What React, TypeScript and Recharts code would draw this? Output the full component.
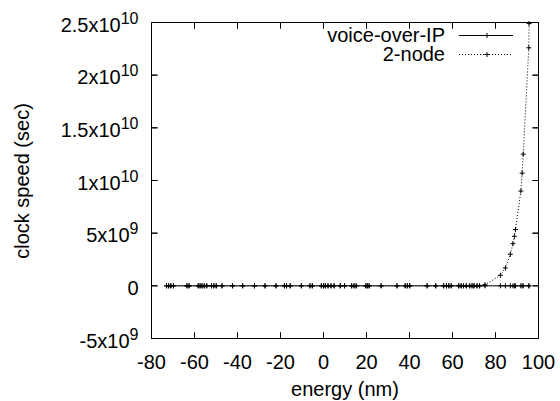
import React from 'react';
import { LineChart, Line, XAxis, YAxis } from 'recharts';

const energy = [
  -73, -72, -71, -69.8, -63.5, -62.5, -58.3, -57.4, -56.5, -55.5, -54.3, -52.1, -51, -49.9,
  -47.2, -42.3, -37.6, -32.1, -27.2, -22.1, -18.2, -17.2, -15.5, -10.3, -6.3, -5.2, -1, 0,
  0.8, 2.1, 3.5, 4.9, 7.8, 9.8, 13.1, 14.2, 15.2, 19.7, 20.4, 21.2, 26.8, 34.2, 38, 39, 40.1,
  48.2, 52.2, 55.9, 57.2, 58.3, 59.4, 62.9, 64, 65.1, 66.4, 68, 69.1, 70, 71.4, 72.6, 75.1,
  82.3, 84.6, 86.9, 88.1, 88.8, 89.3, 91.8, 92.4, 92.9, 95.5, 95.6,
];

const voiceOverIP = [
  0, 0, 0, 0, 0, 0, 0, 0, 0, 0, 0, 0, 0, 0,
  0, 0, 0, 0, 0, 0, 0, 0, 0, 0, 0, 0, 0, 0,
  0, 0, 0, 0, 0, 0, 0, 0, 0, 0, 0, 0, 0, 0, 0, 0, 0,
  0, 0, 0, 0, 0, 0, 0, 0, 0, 0, 0, 0, 0, 0, 0, 0,
  0, 0, 0, 0, 0, 0, 0, 0, 0, 0, 0,
];

const twoNode = [
  0, 0, 0, 0, 0, 0, 0, 0, 0, 0, 0, 0, 0, 0,
  0, 0, 0, 0, 0, 0, 0, 0, 0, 0, 0, 0, 0, 0,
  0, 0, 0, 0, 0, 0, 0, 0, 0, 0, 0, 0, 0, 0, 0, 0, 0,
  0, 0, 0, 0, 0, 0, 0, 0, 0, 0, 0, 0, 0, 0, 0, 1e8,
  1.0e9, 1.7e9, 3.0e9, 4.0e9, 4.7e9, 5.35e9, 9.0e9, 1.07e10, 1.25e10, 2.26e10, 2.49e10,
];

const xDomain = [-80, 100];
const yDomain = [-5e9, 2.5e10];
const xTicks = [-80, -60, -40, -20, 0, 20, 40, 60, 80, 100];
const yTicks = [-5e9, 0, 5e9, 1e10, 1.5e10, 2e10, 2.5e10];
const yTickMantissa = ['-5x10', '0', '5x10', '1x10', '1.5x10', '2x10', '2.5x10'];
const yTickExponent = ['9', '', '9', '10', '10', '10', '10'];

const seriesNames = ['voice-over-IP', '2-node'];
const xLabel = 'energy (nm)';
const yLabel = 'clock speed (sec)';

const data = energy.map((x, i) => ({ x, voice: voiceOverIP[i], node2: twoNode[i] }));

const FONT = '"Liberation Sans", Arial, Helvetica, sans-serif';
const FS = 20;
const TICK = 6;
const CHART_W = 560;
const CHART_H = 401;
const PLOT = { left: 151.5, top: 22.5, right: 538.5, bottom: 338.5 };
const MARGIN = { top: PLOT.top, right: CHART_W - PLOT.right, bottom: 0, left: 0 };
const X_AXIS_H = CHART_H - PLOT.bottom;
const Y_AXIS_W = PLOT.left;
const GAP = 8; // default tickSize (6) + tickMargin (2)

// mirrored frame ticks on the top and right sides (axis furniture only)
const xTickPos = (v: number) =>
  PLOT.left + ((v - xDomain[0]) / (xDomain[1] - xDomain[0])) * (PLOT.right - PLOT.left);
const yTickPos = (v: number) =>
  PLOT.bottom - ((v - yDomain[0]) / (yDomain[1] - yDomain[0])) * (PLOT.bottom - PLOT.top);

const Plus = (props: any) => {
  const { cx, cy } = props;
  if (cx == null || cy == null || isNaN(cx) || isNaN(cy)) return null;
  return (
    <path
      d={`M${cx - 2.5},${cy}h5M${cx},${cy - 2.5}v5`}
      stroke="#000"
      strokeWidth={1}
      fill="none"
    />
  );
};

const BottomTick = (props: any) => {
  const { x, y, payload } = props;
  const axisY = y - GAP;
  return (
    <g>
      <path
        d={`M${x},${axisY}v${-TICK}M${x},${PLOT.top}v${TICK}`}
        stroke="#000"
        strokeWidth={1}
        fill="none"
      />
      <text x={x} y={axisY + 30} textAnchor="middle" fontSize={FS} fontFamily={FONT} fill="#000">
        {payload.value}
      </text>
    </g>
  );
};

const LeftTick = (props: any) => {
  const { x, y, payload } = props;
  const axisX = x + GAP;
  const i = yTicks.indexOf(payload.value);
  return (
    <g>
      <path
        d={`M${axisX},${y}h${TICK}M${PLOT.right},${y}h${-TICK}`}
        stroke="#000"
        strokeWidth={1}
        fill="none"
      />
      <text x={axisX - 13} y={y + 9} textAnchor="end" fontSize={FS} fontFamily={FONT} fill="#000">
        {yTickMantissa[i]}
        {yTickExponent[i] ? (
          <tspan dy={-8} fontSize={16}>
            {yTickExponent[i]}
          </tspan>
        ) : null}
      </text>
    </g>
  );
};

export default function App() {
  return (
    <div style={{ position: 'absolute', left: 0, top: 0, width: CHART_W, height: CHART_H, background: '#fff' }}>
      <LineChart width={CHART_W} height={CHART_H} data={data} margin={MARGIN}>
        <XAxis
          dataKey="x"
          type="number"
          domain={xDomain}
          ticks={xTicks}
          height={X_AXIS_H}
          tickLine={false}
          stroke="#000"
          axisLine={{ stroke: '#000', strokeWidth: 1 }}
          tick={<BottomTick />}
          interval={0}
        />
        <YAxis
          type="number"
          domain={yDomain}
          ticks={yTicks}
          width={Y_AXIS_W}
          tickLine={false}
          stroke="#000"
          axisLine={{ stroke: '#000', strokeWidth: 1 }}
          tick={<LeftTick />}
          interval={0}
        />
        <Line
          dataKey="voice"
          name={seriesNames[0]}
          stroke="#000"
          strokeWidth={1}
          dot={<Plus />}
          activeDot={false}
          isAnimationActive={false}
          type="linear"
        />
        <Line
          dataKey="node2"
          name={seriesNames[1]}
          stroke="#000"
          strokeWidth={1}
          strokeDasharray="1 2"
          dot={<Plus />}
          activeDot={false}
          isAnimationActive={false}
          type="linear"
        />
      </LineChart>
      <svg
        width={CHART_W}
        height={CHART_H}
        style={{ position: 'absolute', left: 0, top: 0, pointerEvents: 'none' }}
      >
        <rect
          x={PLOT.left}
          y={PLOT.top}
          width={PLOT.right - PLOT.left}
          height={PLOT.bottom - PLOT.top}
          fill="none"
          stroke="#000"
          strokeWidth={1}
        />
        {xTicks.map((v) => (
          <path
            key={`xt${v}`}
            d={`M${xTickPos(v)},${PLOT.bottom}v${-TICK}M${xTickPos(v)},${PLOT.top}v${TICK}`}
            stroke="#000"
            strokeWidth={1}
            fill="none"
          />
        ))}
        {yTicks.map((v) => (
          <path
            key={`yt${v}`}
            d={`M${PLOT.left},${yTickPos(v)}h${TICK}M${PLOT.right},${yTickPos(v)}h${-TICK}`}
            stroke="#000"
            strokeWidth={1}
            fill="none"
          />
        ))}
        <text x={22} y={181} transform="rotate(-90 22 181)" dy={7} textAnchor="middle" fontSize={FS} fontFamily={FONT} fill="#000">
          {yLabel}
        </text>
        <text x={345} y={396} textAnchor="middle" fontSize={FS} fontFamily={FONT} fill="#000">
          {xLabel}
        </text>
        <text x={445} y={42} textAnchor="end" fontSize={FS} fontFamily={FONT} fill="#000">
          {seriesNames[0]}
        </text>
        <line x1={459} x2={513} y1={35.5} y2={35.5} stroke="#000" strokeWidth={1} />
        <path d="M484.5,35.5h5M487,33v5" stroke="#000" strokeWidth={1} />
        <text x={445} y={61} textAnchor="end" fontSize={FS} fontFamily={FONT} fill="#000">
          {seriesNames[1]}
        </text>
        <line x1={459} x2={513} y1={54.5} y2={54.5} stroke="#000" strokeWidth={1} strokeDasharray="1 2" />
        <path d="M484.5,54.5h5M487,52v5" stroke="#000" strokeWidth={1} />
      </svg>
    </div>
  );
}
